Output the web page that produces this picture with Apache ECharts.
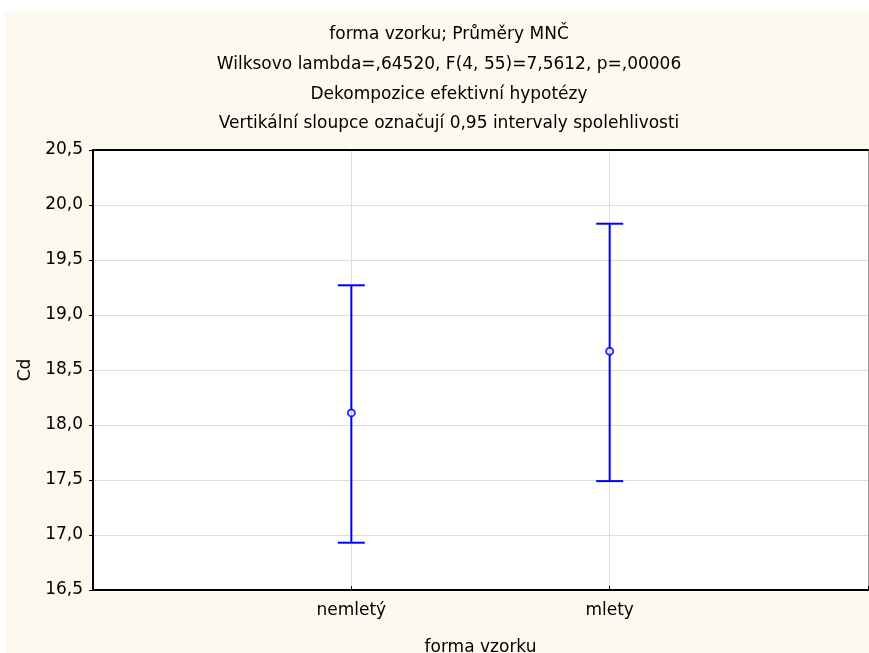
<!DOCTYPE html>
<html>
<head>
<meta charset="utf-8">
<script src="https://cdn.jsdelivr.net/npm/echarts@6/dist/echarts.min.js"></script>
<style>
  html, body { margin: 0; padding: 0; background: #ffffff; width: 869px; height: 653px; overflow: hidden; }
  #chart { position: absolute; left: 5px; top: 11px; width: 864px; height: 642px; background: #fdf9ef; }
</style>
</head>
<body>
<div id="chart"></div>
<script>
const titleLines = [
  'forma vzorku; Průměry MNČ',
  'Wilksovo lambda=,64520, F(4, 55)=7,5612, p=,00006',
  'Dekompozice efektivní hypotézy',
  'Vertikální sloupce označují 0,95 intervaly spolehlivosti'
];
const categories = ['nemletý', 'mlety'];
const means = [18.11, 18.67];
const lower = [16.93, 17.49];
const upper = [19.27, 19.83];
const yTicks = { min: 16.5, max: 20.5, interval: 0.5 };
const xName = 'forma vzorku';
const yName = 'Cd';

const FONT = 'DejaVu Sans';
const BLUE = '#0000ff';
const axisCats = [''].concat(categories, ['']);
const barData = categories.map((c, i) => [i + 1, lower[i], upper[i]]);
const meanData = categories.map((c, i) => [i + 1, means[i]]);

const chart = echarts.init(document.getElementById('chart'));
chart.setOption({
  animation: false,
  backgroundColor: 'transparent',
  textStyle: { fontFamily: FONT },
  title: {
    text: titleLines.join('\n'),
    left: 439,
    top: 4,
    textAlign: 'center',
    textStyle: { fontFamily: FONT, fontSize: 17, fontWeight: 'normal', color: '#000', lineHeight: 29.7 }
  },
  grid: { left: 88, right: 1, top: 139, bottom: 63, show: true, backgroundColor: '#ffffff', borderWidth: 0,
    containLabel: false, outerBoundsMode: 'none' },
  xAxis: [{
    type: 'category',
    data: axisCats,
    boundaryGap: false,
    name: xName,
    nameLocation: 'middle',
    nameGap: 49,
    nameTextStyle: { fontFamily: FONT, fontSize: 17, color: '#000' },
    axisLine: { lineStyle: { color: '#000', width: 2 } },
    axisTick: { inside: true, length: 4, lineStyle: { color: '#000' } },
    axisLabel: { margin: 12, fontFamily: FONT, fontSize: 17, color: '#000' },
    splitLine: { show: true, lineStyle: { color: '#dddddd', width: 1 } }
  }, {
    type: 'category',
    data: axisCats,
    boundaryGap: false,
    position: 'top',
    axisLine: { lineStyle: { color: '#000', width: 2 } },
    axisTick: { show: false },
    axisLabel: { show: false },
    splitLine: { show: false }
  }],
  yAxis: [{
    type: 'value',
    min: yTicks.min,
    max: yTicks.max,
    interval: yTicks.interval,
    name: yName,
    nameLocation: 'middle',
    nameRotate: 90,
    nameGap: 56,
    nameTextStyle: { fontFamily: FONT, fontSize: 17, color: '#000' },
    axisLine: { show: true, lineStyle: { color: '#000', width: 2 } },
    axisTick: { show: true, inside: false, length: 4, lineStyle: { color: '#000' } },
    axisLabel: { margin: 10, fontFamily: FONT, fontSize: 17, color: '#000',
      formatter: v => v.toFixed(1).replace('.', ',') },
    splitLine: { show: true, lineStyle: { color: '#dddddd', width: 1 } }
  }, {
    type: 'value',
    position: 'right',
    min: yTicks.min,
    max: yTicks.max,
    interval: yTicks.interval,
    axisLine: { show: true, lineStyle: { color: '#999999', width: 1 } },
    axisTick: { show: false },
    axisLabel: { show: false },
    splitLine: { show: false }
  }],
  series: [{
    type: 'custom',
    data: barData,
    z: 5,
    renderItem: function (params, api) {
      const x = api.value(0);
      const lo = api.coord([x, api.value(1)]);
      const hi = api.coord([x, api.value(2)]);
      const hw = 13.5;
      const st = { stroke: BLUE, lineWidth: 2 };
      return {
        type: 'group',
        children: [
          { type: 'line', shape: { x1: lo[0], y1: lo[1], x2: hi[0], y2: hi[1] }, style: st },
          { type: 'line', shape: { x1: hi[0] - hw, y1: hi[1], x2: hi[0] + hw, y2: hi[1] }, style: st },
          { type: 'line', shape: { x1: lo[0] - hw, y1: lo[1], x2: lo[0] + hw, y2: lo[1] }, style: st }
        ]
      };
    }
  }, {
    type: 'scatter',
    data: meanData,
    z: 6,
    symbol: 'circle',
    symbolSize: 7,
    itemStyle: { color: '#ffffff', borderColor: BLUE, borderWidth: 2 }
  }]
});
</script>
</body>
</html>
